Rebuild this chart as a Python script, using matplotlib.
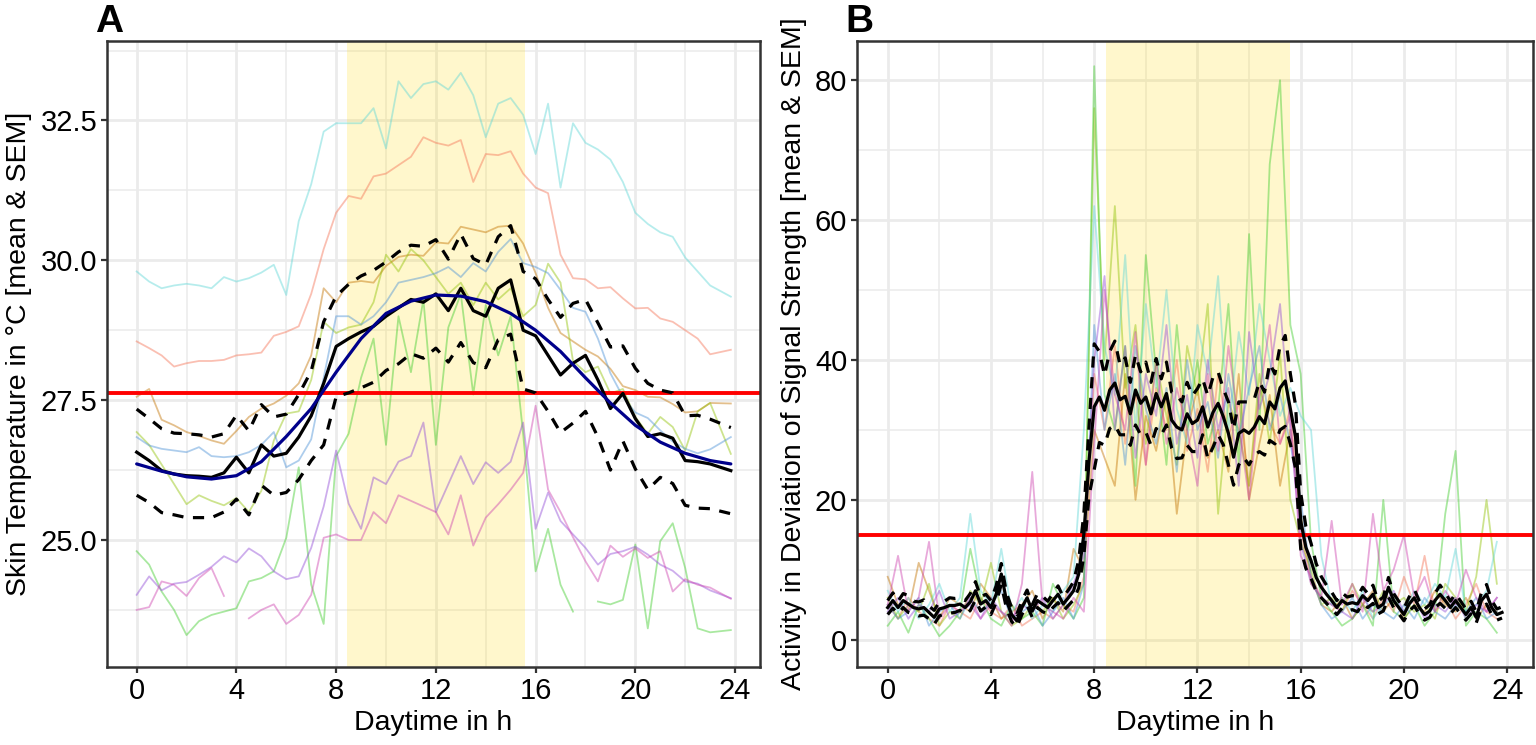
import numpy as np
import matplotlib
matplotlib.use("Agg")
import matplotlib.pyplot as plt
from matplotlib.ticker import MultipleLocator, FormatStrFormatter

plt.rcParams['font.family'] = ['Liberation Sans', 'DejaVu Sans']

# ---------------- Panel A data (skin temperature) ----------------
hours_a = [0, 0.5, 1, 1.5, 2, 2.5, 3, 3.5, 4, 4.5, 5, 5.5,
           6, 6.5, 7, 7.5, 8, 8.5, 9, 9.5, 10, 10.5, 11, 11.5,
           12, 12.5, 13, 13.5, 14, 14.5, 15, 15.5, 16, 16.5, 17, 17.5,
           18, 18.5, 19, 19.5, 20, 20.5, 21, 21.5, 22, 22.5, 23, 23.83]
nan = float('nan')
temp_salmon = [28.55, 28.43, 28.30, 28.10, 28.16, 28.20, 28.20, 28.22, 28.30, 28.32, 28.35, 28.65,
               28.72, 28.82, 29.40, 30.20, 30.85, 31.15, 31.10, 31.50, 31.55, 31.70, 31.85, 32.20,
               32.10, 32.05, 32.15, 31.40, 31.90, 31.88, 31.95, 31.55, 31.30, 31.20, 30.10, 29.68,
               29.66, 29.50, 29.52, 29.32, 29.14, 29.15, 28.96, 28.90, 28.75, 28.60, 28.32, 28.40]
temp_orange = [27.56, 27.70, 27.15, 27.05, 26.93, 26.86, 26.78, 26.72, 26.95, 27.20, 27.35, 27.44,
               27.58, 27.80, 28.30, 29.50, 29.25, 29.60, 29.63, 29.60, 29.90, 30.06, 30.10, 30.08,
               30.32, 30.30, 30.60, 30.55, 30.50, 30.60, 30.62, 30.30, 29.77, 29.15, 28.70, 28.55,
               28.40, 28.28, 28.06, 27.75, 27.68, 27.56, 27.55, 27.43, 27.28, 27.30, 27.45, 27.44]
temp_olive = [26.93, 26.70, 26.35, 26.00, 25.64, 25.80, 25.70, 25.62, 25.75, 25.50, 25.88, 26.78,
              27.26, 27.30, 27.86, 28.90, 28.70, 28.80, 28.85, 29.25, 30.10, 29.80, 30.20, 30.00,
              29.70, 29.40, 29.60, 29.20, 29.60, 29.30, 29.50, 29.00, 29.20, 29.94, 29.60, 28.20,
              28.00, 28.10, 27.62, 27.70, 27.20, 26.90, 27.20, 27.02, 26.60, 27.30, 27.45, 26.54]
temp_green = [24.80, 24.56, 24.08, 23.75, 23.30, 23.55, 23.66, 23.72, 23.78, 24.26, 24.32, 24.44,
              25.04, 26.30, 24.20, 23.50, 26.50, 26.90, 27.90, 28.60, 26.70, 29.00, 28.00, 29.30,
              26.70, 28.80, 29.40, 27.60, 29.20, 28.30, 29.00, 26.90, 24.44, 25.20, 24.20, 23.72,
              nan, 23.90, 23.85, 23.93, 24.92, 23.42, 24.98, 25.30, 24.50, 23.42, 23.35, 23.39]
temp_cyan = [29.80, 29.62, 29.50, 29.55, 29.58, 29.55, 29.50, 29.70, 29.62, 29.68, 29.78, 29.92,
             29.38, 30.70, 31.36, 32.30, 32.45, 32.45, 32.45, 32.72, 32.00, 33.20, 32.90, 33.15,
             33.20, 33.05, 33.35, 32.95, 32.20, 32.80, 32.90, 32.60, 31.90, 32.80, 31.30, 32.45,
             32.10, 31.98, 31.80, 31.40, 30.85, 30.65, 30.50, 30.42, 30.05, 29.80, 29.55, 29.35]
temp_blue = [26.84, 26.69, 26.63, 26.60, 26.57, 26.66, 26.50, 26.48, 26.50, 26.57, 26.70, 26.93,
             26.30, 26.42, 26.80, 27.90, 29.00, 29.00, 28.85, 29.00, 29.25, 29.60, 29.65, 29.70,
             29.77, 29.88, 29.70, 29.95, 29.80, 30.15, 30.38, 29.95, 29.88, 29.77, 29.47, 29.15,
             29.08, 28.60, 27.98, 27.56, 27.28, 27.18, 26.96, 26.76, 26.63, 26.55, 26.62, 26.84]
temp_purple = [24.02, 24.35, 24.10, 24.22, 24.25, 24.38, 24.52, 24.71, 24.60, 24.85, 24.71, 24.44,
               24.30, 24.35, 24.86, 25.60, 26.60, 25.65, 25.20, 26.12, 26.00, 26.40, 26.50, 27.10,
               25.50, 26.00, 26.50, 26.00, 26.39, 26.20, 26.40, 27.10, 25.20, 25.85, 25.34, 25.10,
               24.86, 24.56, 24.75, 24.80, 24.88, 24.74, 24.56, 24.45, 24.26, 24.22, 24.10, 23.96]
temp_pink = [23.75, 23.80, 24.26, 24.20, 24.00, 24.32, 24.50, 24.00, nan, 23.60, 23.75, 23.85,
             23.50, 23.66, 24.02, 25.04, 25.10, 25.00, 25.00, 25.50, 25.30, 25.80, 25.70, 25.60,
             25.50, 25.10, 25.80, 24.90, 25.40, 25.64, 25.90, 26.20, 27.40, 25.90, 25.50, 25.05,
             24.62, 24.26, 24.90, 24.70, 24.85, 24.68, 24.80, 24.08, 24.30, 24.20, 24.15, 23.95]
temp_mean = [26.57, 26.42, 26.24, 26.18, 26.15, 26.14, 26.12, 26.20, 26.48, 26.20, 26.70, 26.50,
             26.55, 26.84, 27.22, 27.80, 28.46, 28.60, 28.72, 28.82, 29.00, 29.15, 29.30, 29.25,
             29.40, 29.10, 29.50, 29.10, 29.00, 29.50, 29.65, 28.75, 28.65, 28.30, 27.95, 28.16,
             28.30, 27.86, 27.35, 27.62, 27.17, 26.85, 26.90, 26.82, 26.42, 26.40, 26.36, 26.24]
temp_sem = [0.77, 0.75, 0.75, 0.73, 0.75, 0.74, 0.72, 0.70, 0.75, 0.75, 0.72, 0.70,
            0.70, 0.76, 0.80, 1.10, 0.90, 0.97, 1.00, 1.00, 0.97, 1.00, 0.97, 1.00,
            0.97, 0.92, 0.97, 0.93, 0.92, 0.92, 0.97, 1.05, 1.02, 1.00, 1.03, 1.07,
            1.00, 1.02, 1.10, 0.85, 0.90, 0.95, 0.78, 0.81, 0.80, 0.83, 0.80, 0.77]
fit_hours = [0, 1, 2, 3, 4, 5, 6, 7, 8, 9, 10, 11, 12, 13, 14, 15, 16, 17, 18, 19, 20, 21, 22, 23, 23.83]
fit_temp = [26.36, 26.23, 26.13, 26.09, 26.15, 26.40, 26.85, 27.35, 28.00, 28.60, 29.05, 29.27,
            29.38, 29.36, 29.26, 29.05, 28.75, 28.37, 27.90, 27.45, 27.05, 26.75, 26.55, 26.42, 26.36]
temp_threshold = 27.63

# ---------------- Panel B data (activity) ----------------
hours_b_ind = [round(0.4 * i, 1) for i in range(60)]
hours_b_mean = [round(0.2 * i, 1) for i in range(120)]
act_salmon = [5, 3, 6, 4, 3, 2, 5, 4, 3, 6, 4, 3, 5, 2, 3, 4, 3, 5, 4, 9,
              38, 30, 42, 28, 35, 25, 36, 30, 40, 27, 33, 24, 38, 29, 34, 22, 36, 31, 28, 33,
              16, 8, 6, 5, 4, 7, 5, 3, 6, 4, 9, 5, 12, 4, 6, 3, 5, 8, 4, 3]
act_orange = [9, 5, 4, 11, 7, 3, 6, 5, 4, 8, 6, 3, 4, 5, 7, 3, 6, 4, 13, 10,
              30, 26, 22, 38, 20, 32, 27, 35, 18, 30, 36, 26, 30, 24, 38, 20, 28, 35, 22, 30,
              18, 9, 5, 4, 6, 3, 5, 7, 4, 6, 3, 5, 4, 7, 5, 4, 6, 3, 5, 4]
act_olive = [6, 3, 5, 4, 8, 2, 4, 3, 7, 5, 11, 4, 2, 3, 5, 4, 6, 3, 5, 8,
             76, 40, 62, 36, 45, 28, 40, 32, 25, 42, 35, 48, 18, 34, 30, 22, 38, 28, 41, 20,
             14, 10, 5, 6, 4, 8, 5, 4, 7, 5, 6, 4, 5, 3, 8, 6, 4, 9, 20, 8]
act_green = [2, 4, 1, 5, 3, 0.5, 2, 4, 13, 6, 3, 2, 5, 3, 4, 2, 8, 5, 3, 6,
             82, 35, 30, 42, 22, 55, 38, 25, 45, 30, 40, 28, 33, 48, 25, 58, 30, 68, 80, 45,
             38, 14, 6, 4, 2, 3, 5, 2, 20, 4, 3, 5, 2, 4, 18, 27, 2, 4, 3, 1]
act_cyan = [7, 4, 6, 3, 5, 8, 4, 6, 18, 7, 5, 13, 4, 6, 3, 5, 4, 7, 9, 30,
            62, 42, 35, 55, 30, 48, 36, 50, 33, 28, 45, 38, 52, 30, 44, 35, 48, 40, 32, 36,
            32, 30, 12, 5, 6, 4, 7, 3, 5, 6, 4, 7, 5, 8, 6, 13, 4, 5, 7, 14]
act_blue = [5, 3, 4, 6, 2, 4, 5, 3, 6, 4, 5, 7, 3, 4, 5, 2, 4, 6, 3, 8,
            45, 30, 38, 25, 42, 33, 28, 36, 24, 40, 30, 34, 26, 38, 29, 36, 42, 30, 35, 28,
            20, 9, 5, 3, 4, 6, 3, 5, 4, 3, 5, 3, 6, 4, 3, 5, 4, 6, 3, 4]
act_purple = [4, 6, 3, 5, 4, 7, 3, 4, 5, 3, 6, 4, 3, 5, 4, 6, 3, 5, 8, 12,
              40, 52, 30, 42, 26, 38, 32, 45, 28, 35, 26, 40, 30, 36, 22, 44, 33, 38, 48, 30,
              14, 8, 6, 5, 4, 3, 6, 4, 5, 7, 4, 6, 3, 5, 4, 6, 3, 5, 4, 6]
act_pink = [5, 12, 4, 6, 14, 3, 5, 4, 6, 3, 5, 4, 2, 8, 24, 5, 4, 3, 6, 4,
            28, 50, 35, 30, 44, 25, 40, 28, 36, 30, 22, 38, 27, 42, 31, 20, 35, 45, 28, 32,
            12, 9, 6, 17, 5, 8, 4, 18, 7, 10, 15, 6, 9, 4, 7, 5, 10, 6, 4, 6]
act_mean = [4.6, 5.6, 4.6, 5.6, 5.1, 4.6, 4.4, 4.6, 3.9, 3.2,
            4.4, 4.6, 4.9, 4.9, 5.1, 4.6, 5.4, 7.0, 5.1, 5.6,
            4.6, 6.5, 9.4, 5.6, 3.6, 2.7, 4.6, 6.0, 4.1, 5.6,
            5.1, 4.6, 5.6, 6.5, 5.1, 6.0, 7.0, 9.4, 15.1, 25.6,
            33.3, 34.7, 32.8, 35.7, 36.7, 34.3, 34.8, 32.3, 35.7, 33.8,
            34.7, 32.3, 35.2, 33.3, 35.2, 31.4, 30.4, 30.0, 32.3, 30.9,
            31.4, 33.3, 30.4, 32.5, 33.8, 31.9, 29.5, 26.1, 29.5, 30.0,
            29.5, 30.4, 31.9, 30.9, 34.0, 33.0, 36.0, 37.0, 33.0, 29.0,
            17.0, 13.2, 11.3, 8.9, 7.5, 6.5, 5.6, 4.6, 5.6, 5.1,
            5.3, 5.1, 6.3, 5.6, 6.5, 4.6, 5.1, 7.5, 5.6, 4.6,
            3.6, 5.1, 6.0, 4.6, 3.6, 4.1, 5.6, 6.5, 5.6, 4.6,
            5.6, 4.6, 3.6, 4.6, 3.2, 5.6, 6.5, 4.6, 3.6, 3.9]
act_sem = [1.0, 1.1, 0.9, 1.0, 1.2, 0.9, 1.0, 1.1, 0.9, 1.0,
           1.0, 0.9, 1.1, 1.0, 0.9, 1.0, 1.2, 1.3, 1.0, 0.9,
           1.0, 1.2, 1.5, 1.1, 1.0, 0.9, 1.0, 1.1, 0.9, 1.0,
           1.1, 0.9, 1.0, 1.2, 1.0, 1.1, 1.3, 2.0, 3.0, 5.0,
           9.0, 6.5, 5.0, 5.5, 6.0, 5.0, 5.5, 4.5, 5.0, 4.5,
           5.0, 4.5, 5.0, 4.0, 4.5, 4.0, 4.5, 4.0, 4.5, 4.0,
           4.5, 4.0, 4.5, 5.0, 4.5, 4.0, 4.5, 4.0, 4.5, 4.0,
           4.5, 4.0, 5.0, 4.5, 5.5, 5.0, 6.0, 6.5, 5.0, 4.5,
           4.0, 3.0, 2.5, 2.0, 1.5, 1.3, 1.2, 1.0, 1.1, 1.0,
           1.0, 1.1, 1.2, 1.0, 1.3, 0.9, 1.0, 1.4, 1.0, 0.9,
           0.9, 1.0, 1.2, 0.9, 0.8, 0.9, 1.0, 1.3, 1.1, 0.9,
           1.0, 0.9, 0.8, 0.9, 0.8, 1.1, 1.4, 1.0, 0.8, 0.8]
act_threshold = 15

light_start, light_end = 8.45, 15.57
subject_colors = ['#F57355', '#C37300', '#91C305', '#41CD2D',
                  '#5FD7D7', '#4B91D7', '#914BD7', '#CD41AF']

temp_subjects = [temp_salmon, temp_orange, temp_olive, temp_green,
                 temp_cyan, temp_blue, temp_purple, temp_pink]
act_subjects = [act_salmon, act_orange, act_olive, act_green,
                act_cyan, act_blue, act_purple, act_pink]

W, H = 1536, 745
fig = plt.figure(figsize=(W / 100, H / 100), dpi=100)
axA = fig.add_axes([107 / W, 1 - 667 / H, (760 - 107) / W, (667 - 41) / H])
axB = fig.add_axes([857 / W, 1 - 667 / H, (1533 - 857) / W, (667 - 41) / H])


def style(ax):
    ax.set_facecolor('white')
    ax.set_axisbelow(True)
    ax.grid(which='major', color='#EBEBEB', lw=2.0)
    ax.grid(which='minor', color='#EBEBEB', lw=1.1)
    for s in ax.spines.values():
        s.set_color('#333333')
        s.set_linewidth(1.8)
        s.set_zorder(10)
    ax.tick_params(which='major', length=4, width=1.6, color='#333333',
                   labelsize=21, labelcolor='black', pad=3)
    ax.tick_params(which='minor', length=0)
    ax.xaxis.set_major_locator(MultipleLocator(4))
    ax.xaxis.set_minor_locator(MultipleLocator(2))
    ax.set_xlim(-1.19, 25.0)
    ax.axvspan(light_start, light_end, color=(1.0, 0.843, 0.0), alpha=0.2, lw=0, zorder=1)
    ax.set_xlabel('Daytime in h', fontsize=20.5, labelpad=4)


dash = (0, (3.5, 3.0))

# Panel A
style(axA)
for vals, c in zip(temp_subjects, subject_colors):
    axA.plot(hours_a, vals, color=c, alpha=0.45, lw=1.3, zorder=2)
axA.axhline(temp_threshold, color='#FF0000', lw=2.8, zorder=3)
tm = np.array(temp_mean)
ts = np.array(temp_sem)
axA.plot(hours_a, tm, color='black', lw=2.3, zorder=4)
axA.plot(hours_a, tm + ts, color='black', lw=2.3, ls=dash, zorder=4)
axA.plot(hours_a, tm - ts, color='black', lw=2.3, ls=dash, zorder=4)
axA.plot(fit_hours, fit_temp, color='#00008B', lw=2.3, zorder=5, solid_capstyle='round')
axA.set_ylim(22.73, 33.92)
axA.yaxis.set_major_locator(MultipleLocator(2.5))
axA.yaxis.set_minor_locator(MultipleLocator(1.25))
axA.yaxis.set_major_formatter(FormatStrFormatter('%.1f'))
axA.set_ylabel('Skin Temperature in °C [mean & SEM]', fontsize=20.5, labelpad=6)

# Panel B
style(axB)
for vals, c in zip(act_subjects, subject_colors):
    axB.plot(hours_b_ind, vals, color=c, alpha=0.45, lw=1.3, zorder=2)
axB.axhline(act_threshold, color='#FF0000', lw=2.8, zorder=3)
am = np.array(act_mean)
asd = np.array(act_sem)
axB.plot(hours_b_mean, am, color='black', lw=2.3, zorder=4)
axB.plot(hours_b_mean, am + asd, color='black', lw=2.3, ls=dash, zorder=4)
axB.plot(hours_b_mean, am - asd, color='black', lw=2.3, ls=dash, zorder=4)
axB.set_ylim(-3.9, 85.6)
axB.yaxis.set_major_locator(MultipleLocator(20))
axB.yaxis.set_minor_locator(MultipleLocator(10))
axB.set_ylabel('Activity in Deviation of Signal Strength [mean & SEM]', fontsize=20.5, labelpad=6)

fig.text(95 / W, 1 - 32 / H, 'A', fontsize=28, fontweight='bold', va='baseline', ha='left')
fig.text(845 / W, 1 - 32 / H, 'B', fontsize=28, fontweight='bold', va='baseline', ha='left')

fig.savefig('out.png', dpi=100, facecolor='white')
